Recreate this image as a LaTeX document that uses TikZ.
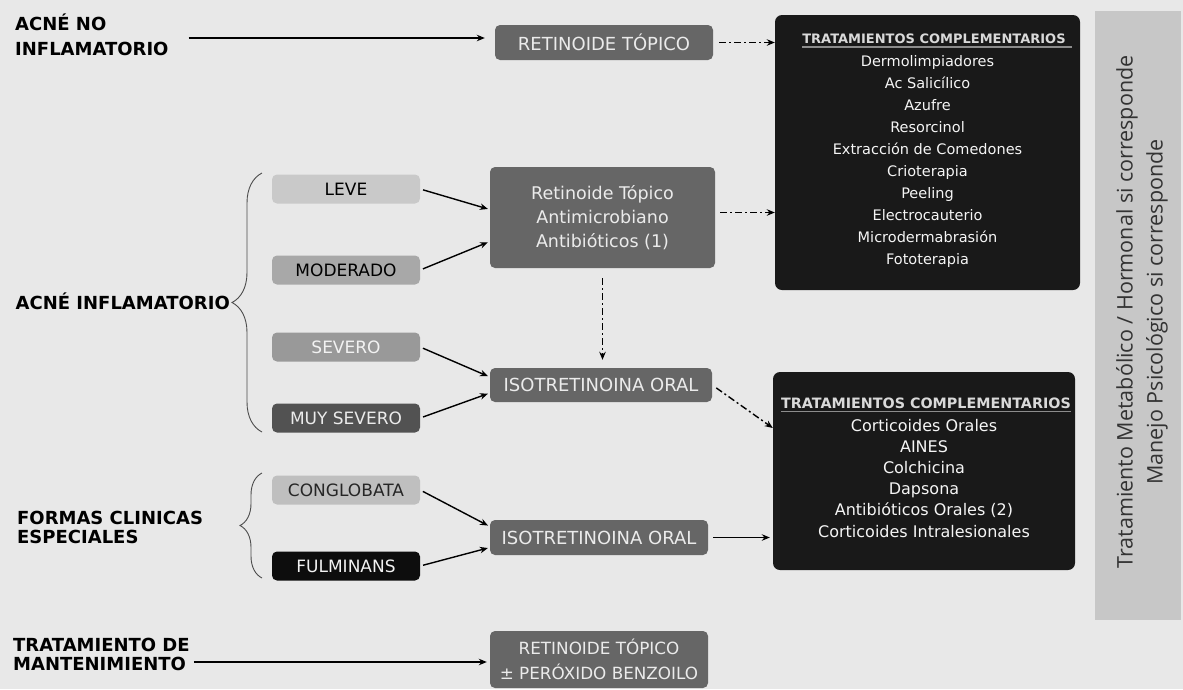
\documentclass[tikz,border=0pt]{standalone}
\usepackage{fontspec}
\setmainfont{DejaVu Sans}
\newfontfamily\sidefont{Open Sans}
\usepackage{tikz}
\usetikzlibrary{arrows.meta,calc,decorations.pathreplacing}
\newcommand{\clrbg}{black!9}
\newcommand{\clrleve}{black!21}
\newcommand{\clrmod}{black!34}
\newcommand{\clrsev}{black!40}
\newcommand{\clrmuy}{black!68}
\newcommand{\clrbox}{black!60}
\newcommand{\clrdark}{black!90}
\newcommand{\clrcong}{black!25}
\newcommand{\clrfulm}{black!95}
\newcommand{\clrside}{black!22}

\begin{document}
\begin{tikzpicture}[x=1pt, y=-1pt,
    gradebox/.style = {rounded corners=5pt, inner sep=0pt, minimum width=148pt, minimum height=29pt, font=\fontsize{17}{20}\selectfont},
    treatbox/.style = {rounded corners=5pt, inner sep=0pt, align=center, fill=\clrbox, text=black!8, font=\fontsize{18}{24}\selectfont},
    darkbox/.style = {rounded corners=7pt, fill=\clrdark},
    itemtxt/.style = {inner sep=0pt, text=black!4, text height=11pt, text depth=3pt},
    boxtitle/.style = {inner sep=0pt, text=black!15, font=\bfseries\fontsize{13}{15}\selectfont},
    sidelab/.style = {inner sep=0pt, align=left, font=\bfseries\fontsize{18}{19}\selectfont},
    arrowline/.style = {-{Stealth[length=8pt,width=6.5pt]}, line width=1.4pt},
    dashdot/.style = {arrowline, dash pattern=on 7pt off 3pt on 2pt off 3pt},
    bracket/.style = {decorate, decoration={brace, amplitude=#1}, line width=0.9pt, black!70}
]
    \fill[\clrbg] (0,0) rectangle (1183,689);

%left labels
    \node[sidelab, anchor=west, font=\bfseries\fontsize{18}{25.5}\selectfont] (acneno) at (15,35) {ACNÉ NO\\INFLAMATORIO};
    \node[sidelab, anchor=east] (acneinf) at (230,301) {ACNÉ INFLAMATORIO};
    \node[sidelab, anchor=west] (formas) at (17,527) {FORMAS CLINICAS\\ESPECIALES};
    \node[sidelab, anchor=west] (mant) at (13,654) {TRATAMIENTO DE\\MANTENIMIENTO};

%grades
    \foreach \name/\txt/\y/\fil/\tc in {leve/LEVE/189/\clrleve/black, mod/MODERADO/270/\clrmod/black, sev/SEVERO/347/\clrsev/black!5, muy/MUY SEVERO/418/\clrmuy/black!8, cong/CONGLOBATA/490/\clrcong/black!85, fulm/FULMINANS/566/\clrfulm/black!5} {
        \node[gradebox, fill=\fil, text=\tc] (\name) at (346,\y) {\txt};
    }
    \draw[bracket=30pt] (262,432) -- (262,173);
    \draw[bracket=22pt] (262,578) -- (262,473);

%treatments
    \node[treatbox, minimum width=218pt, minimum height=35pt] (rtop) at (604,42.5) {RETINOIDE TÓPICO};
    \node[treatbox, minimum width=225pt, minimum height=101pt, font=\fontsize{17.5}{24}\selectfont] (mid) at (602.5,217.5) {Retinoide Tópico\\Antimicrobiano\\Antibióticos (1)};
    \node[treatbox, minimum width=222pt, minimum height=34pt] (iso1) at (601,385) {ISOTRETINOINA ORAL};
    \node[treatbox, minimum width=218pt, minimum height=35pt] (iso2) at (599,537.5) {ISOTRETINOINA ORAL};
    \node[treatbox, minimum width=218pt, minimum height=57pt, font=\fontsize{16.8}{25}\selectfont] (rmant) at (599,659.5) {RETINOIDE TÓPICO\\± PERÓXIDO BENZOILO};

%complementary
    \node[darkbox, minimum width=305pt, minimum height=275pt] (comp1) at (927.5,152.5) {};
    \node[boxtitle] (comp1t) at (934,39) {TRATAMIENTOS COMPLEMENTARIOS};
    \draw[black!45, line width=1.5pt] ([yshift=-3pt]comp1t.south west) -- ([xshift=6pt, yshift=-3pt]comp1t.south east);
    \foreach \txt [count=\i] in {Dermolimpiadores, Ac Salicílico, Azufre, Resorcinol, Extracción de Comedones, Crioterapia, Peeling, Electrocauterio, Microdermabrasión, Fototerapia} {
        \node[itemtxt, font=\fontsize{14.5}{16}\selectfont] (comp1\i) at (927.5,41+21.9*\i) {\txt};
    }
    \node[darkbox, minimum width=302pt, minimum height=198pt] (comp2) at (924,471) {};
    \node[boxtitle, font=\bfseries\fontsize{14.3}{16}\selectfont] (comp2t) at (926,403) {TRATAMIENTOS COMPLEMENTARIOS};
    \draw[black!45, line width=1.5pt] ([yshift=-3pt]comp2t.south west) -- ([yshift=-3pt]comp2t.south east);
    \foreach \txt [count=\i] in {Corticoides Orales, AINES, Colchicina, Dapsona, Antibióticos Orales (2), Corticoides Intralesionales} {
        \node[itemtxt, font=\fontsize{16}{17}\selectfont] (comp2\i) at (924,405.8+21.2*\i) {\txt};
    }

%side panel
    \node[fill=\clrside, minimum width=86pt, minimum height=609pt, inner sep=0pt] (side) at (1138,315.5) {};
    \node[rotate=90, align=center, text=black!80, font=\sidefont\fontsize{21.5}{30}\selectfont] (sidetxt) at (1142,312) {Tratamiento Metabólico / Hormonal si corresponde\\Manejo Psicológico si corresponde};

%arrows
    \draw[arrowline, shorten <=20pt, shorten >=10pt] ([yshift=-3pt]acneno.east) -- ([yshift=-3pt]acneno.east -| rtop.west);
    \draw[dashdot, shorten <=6pt] (rtop.east) -- (rtop.east -| comp1.west);
    \draw[arrowline, shorten <=3pt, shorten >=2pt] (leve.east) -- ([yshift=8pt]mid.west);
    \draw[arrowline, shorten <=3pt, shorten >=2pt] (mod.east) -- ([yshift=-24pt]mid.west);
    \draw[dashdot, shorten <=5pt] ([yshift=5pt]mid.east) -- ([yshift=5pt]mid.east -| comp1.west);
    \draw[dashdot, shorten <=10pt, shorten >=8pt] (mid.south) -- (mid.south |- iso1.north);
    \draw[arrowline, shorten <=3pt, shorten >=2pt] (sev.east) -- ([yshift=8pt]iso1.west);
    \draw[arrowline, shorten <=3pt, shorten >=2pt] (muy.east) -- ([yshift=-8pt]iso1.west);
    \draw[dashdot, shorten <=5pt] (iso1.east) -- ([yshift=43pt]comp2.west);
    \draw[arrowline, shorten <=3pt, shorten >=2pt] (cong.east) -- ([yshift=11pt]iso2.west);
    \draw[arrowline, shorten <=3pt, shorten >=2pt] (fulm.east) -- ([yshift=-10pt]iso2.west);
    \draw[arrowline, shorten <=5pt, shorten >=3pt] (iso2.east) -- (iso2.east -| comp2.west);
    \draw[arrowline, shorten <=4pt, shorten >=3pt] ([yshift=-8pt]mant.east) -- ([yshift=-8pt]mant.east -| rmant.west);
\end{tikzpicture}
\end{document}
